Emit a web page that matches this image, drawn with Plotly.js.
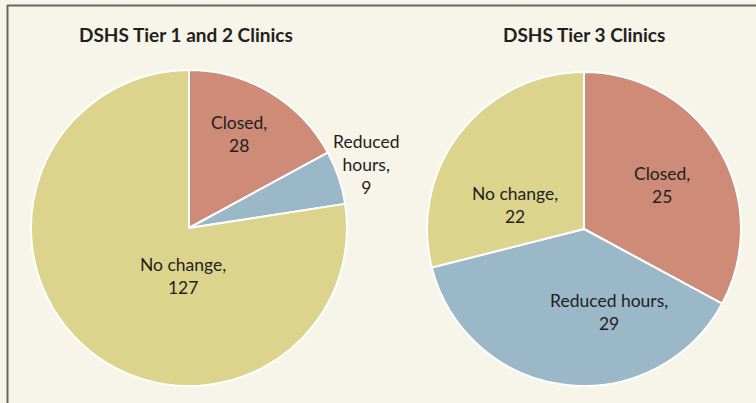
<!DOCTYPE html>
<html><head><meta charset="utf-8">
<script src="https://cdn.plot.ly/plotly-3.0.1.min.js"></script>
<style>html,body{margin:0;padding:0;background:#f7f5e9;}</style>
</head><body>
<div id="chart" style="width:756px;height:403px;"></div>
<script>
const categories = ["Closed", "Reduced hours", "No change"];
const tier12Values = [28, 9, 127];
const tier3Values = [25, 29, 22];
const panelTitles = ["DSHS Tier 1 and 2 Clinics", "DSHS Tier 3 Clinics"];
const colors = ["#cd8b78", "#9bb8c9", "#dcd48c"];

function pie(values, dom) {
  return {
    type: "pie", values: values, labels: categories, sort: false,
    direction: "clockwise", rotation: 0, textinfo: "none", hoverinfo: "none",
    marker: {colors: colors, line: {color: "#ffffff", width: 2}},
    domain: dom, showlegend: false
  };
}
const data = [
  pie(tier12Values, {x: [31/756, 347/756], y: [17/403, 333/403]}),
  pie(tier3Values, {x: [427/756, 741/756], y: [17/403, 331/403]})
];

const font = {family: "Lato, 'Open Sans', sans-serif", size: 17.5, color: "#231f20"};
function lbl(text, x, y) {
  return {text: text, x: x/756, y: 1 - y/403, xref: "paper", yref: "paper",
          showarrow: false, font: font, align: "center", xanchor: "center", yanchor: "middle"};
}
function ttl(text, x) {
  return {text: "<b>" + text + "</b>", x: x/756, y: 1 - 34/403, xref: "paper", yref: "paper",
          xanchor: "center", yanchor: "middle", showarrow: false,
          font: {family: "Lato, sans-serif", size: 19, color: "#231f20"}};
}
const ann = [
  ttl(panelTitles[0], 186),
  ttl(panelTitles[1], 584),
  lbl(categories[0] + ",<br>" + tier12Values[0], 239, 134),
  lbl("Reduced<br>hours,<br>" + tier12Values[1], 366, 164),
  lbl(categories[2] + ",<br>" + tier12Values[2], 183, 276),
  lbl(categories[0] + ",<br>" + tier3Values[0], 662, 185),
  lbl(categories[1] + ",<br>" + tier3Values[1], 609, 312),
  lbl(categories[2] + ",<br>" + tier3Values[2], 515, 205)
];

const layout = {
  width: 756, height: 403,
  margin: {l: 0, r: 0, t: 0, b: 0},
  paper_bgcolor: "#f7f5e9", plot_bgcolor: "#f7f5e9",
  annotations: ann,
  shapes: [
    {type: "line", xref: "paper", yref: "paper", x0: 7/756, x1: 1, y0: 1 - 5.5/403, y1: 1 - 5.5/403,
     line: {color: "#666666", width: 2}},
    {type: "line", xref: "paper", yref: "paper", x0: 7.5/756, x1: 7.5/756, y0: 0, y1: 1 - 5/403,
     line: {color: "#666666", width: 2}}
  ]
};
Plotly.newPlot("chart", data, layout, {staticPlot: true});
</script>
</body></html>
